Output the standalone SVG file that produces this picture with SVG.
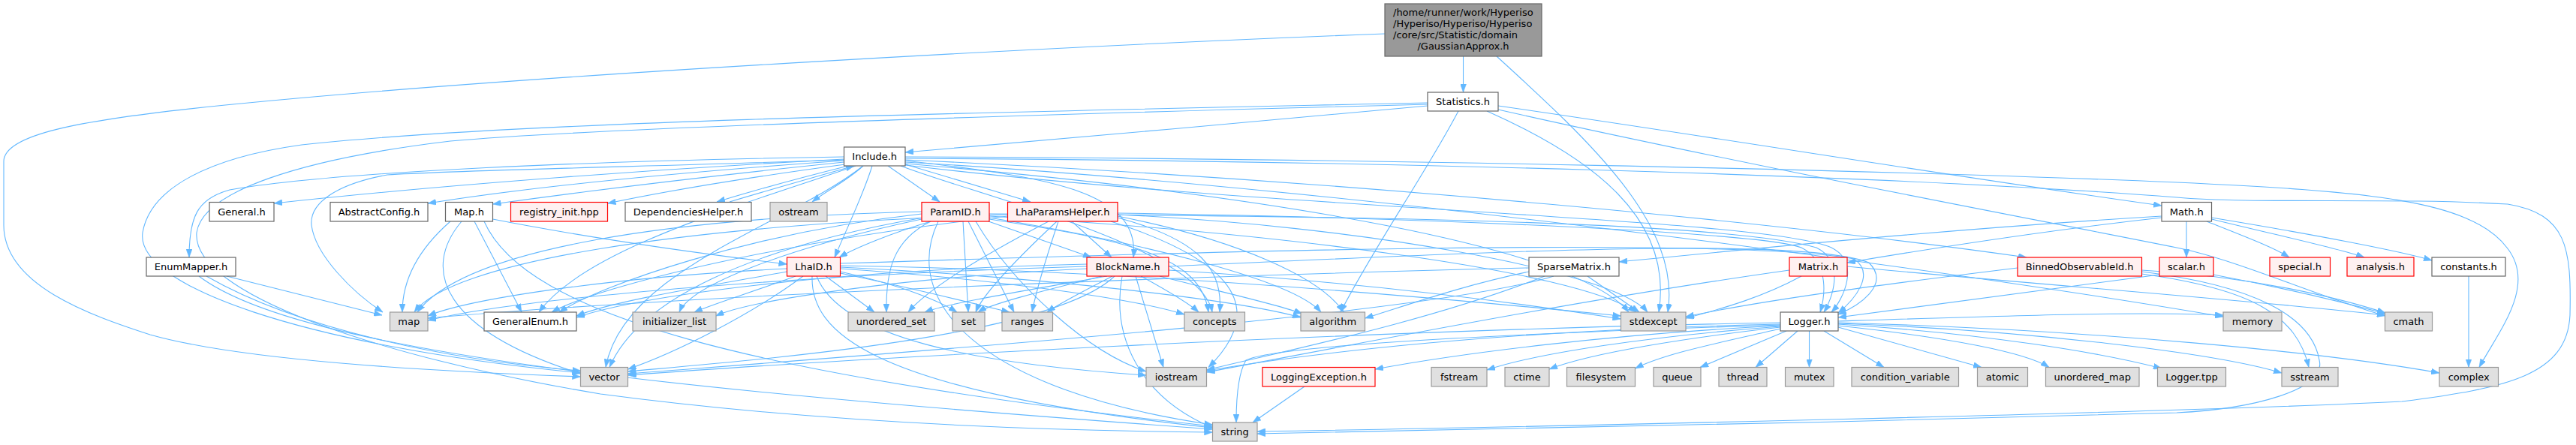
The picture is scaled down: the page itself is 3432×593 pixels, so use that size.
<svg xmlns="http://www.w3.org/2000/svg" width="3432" height="593" viewBox="0 0 3432 593">
<style>
.n rect{stroke-width:1.2}
.w rect{fill:#ffffff;stroke:#666666}
.g rect{fill:#e0e0e0;stroke:#999999}
.r rect{fill:#fff0f0;stroke:#ff0000}
.m rect{fill:#999999;stroke:#666666}
text{font-family:"DejaVu Sans","Liberation Sans",sans-serif;font-size:13px;fill:#000000;text-anchor:middle}
.e{fill:none;stroke:#63b8ff;stroke-width:1.1;marker-end:url(#ah)}
</style>
<defs>
<marker id="ah" markerUnits="userSpaceOnUse" markerWidth="11" markerHeight="8" refX="11" refY="4" orient="auto">
<path d="M0,0 L11,4 L0,8 z" fill="#63b8ff" stroke="#63b8ff" stroke-width="0.5"/>
</marker>
</defs>
<rect x="0" y="0" width="3432" height="593" fill="#ffffff"/>
<g id="edges">
<path class="e" d="M1949.5,75 L1949.5,123"/>
<path class="e" d="M1845,45 C1400,62 700,100 300,140 C100,160 5,180 5,215 L5,300 C5,380 120,420 200,446 C320,480 560,494 773.5,502"/>
<path class="e" d="M1994,75 C2120,190 2240,300 2222,416"/>
<path class="e" d="M1902,141 C1700,160 1400,186 1206,203"/>
<path class="e" d="M1996,141 C2300,185 2600,235 2880,274"/>
<path class="e" d="M1943,148 C1900,230 1830,330 1786,416"/>
<path class="e" d="M1981,148 C2120,210 2230,290 2210,416"/>
<path class="e" d="M1996,146 C2300,215 2700,290 2900,330 C2980,346 3080,392 3178,421"/>
<path class="e" d="M1902,137 C1400,148 700,160 402,193 C280,210 200,250 190,310 C180,380 400,460 773.5,497"/>
<path class="e" d="M1902,139 C1400,152 800,170 600,188 C400,212 270,255 262,310 C255,390 500,475 800,525 C1100,565 1400,574 1615.5,576"/>
<path class="e" d="M1124.5,212 C900,224 600,245 365,271"/>
<path class="e" d="M1124.5,214 C900,230 700,250 570,271"/>
<path class="e" d="M1124.5,216 C950,234 800,252 656.5,272"/>
<path class="e" d="M1126,219 C1000,236 900,252 809.5,271"/>
<path class="e" d="M1130,221 C1070,236 1010,252 955,269"/>
<path class="e" d="M972,269 C1025,253 1085,236 1138,221"/>
<path class="e" d="M1150,221 C1130,240 1100,255 1082,269"/>
<path class="e" d="M1183,221 L1252,269"/>
<path class="e" d="M1206,219 L1373,269"/>
<path class="e" d="M1124.5,209 C800,214 450,228 306,253 C262,265 252,290 252,343"/>
<path class="e" d="M1162,221 C1150,260 1130,300 1112,343"/>
<path class="e" d="M1206,214 C1380,235 1520,250 1510,343"/>
<path class="e" d="M1140,221 C1000,270 780,330 718,416"/>
<path class="e" d="M1124.5,213 C900,221 600,227 516,233 C450,245 412,270 415,300 C420,340 470,390 510,416"/>
<path class="e" d="M1150,221 C1050,300 830,360 807,489.5"/>
<path class="e" d="M1206,209 C1800,211 2500,226 2900,243 C3150,255 3290,265 3340,330 C3380,380 3330,440 3303,489.5"/>
<path class="e" d="M1206,211 C1800,214 2500,232 2900,263 C3002,272 3188,263 3341,272 C3420,285 3426,330 3424,420 C3420,500 3341,517 3200,535 C2900,550 2000,570 1675,575"/>
<path class="e" d="M1206,216 C1800,250 2600,360 2962,422"/>
<path class="e" d="M1200,221 C1300,260 1600,330 1615,416"/>
<path class="e" d="M1206,218 C1700,260 2100,330 2170,416"/>
<path class="e" d="M1206,220 C1700,280 2350,290 2440,330 C2480,350 2455,400 2440,416"/>
<path class="e" d="M1206,213 C1800,240 2400,300 2700,343"/>
<path class="e" d="M2913,295 L2913,343"/>
<path class="e" d="M2940,295 C2990,315 3030,330 3050,343"/>
<path class="e" d="M2946.5,292 C3040,315 3120,332 3150,343"/>
<path class="e" d="M2946.5,290 C3080,312 3200,335 3240,347"/>
<path class="e" d="M2880,290 C2700,310 2550,335 2461,350"/>
<path class="e" d="M2880,288 C2600,305 2350,330 2157,349"/>
<path class="e" d="M2877,366 C2700,390 2550,410 2449,423"/>
<path class="e" d="M2949,366 C3050,385 3130,405 3178,418"/>
<path class="e" d="M3289,368 L3289,489.5"/>
<path class="e" d="M2688,357 C2500,380 2350,400 2246,422"/>
<path class="e" d="M2853.5,362 C3000,380 3080,420 3090,480 C3100,520 3000,545 2900,550 C2500,562 2000,572 1675,578"/>
<path class="e" d="M2853.5,365 C3000,385 3060,420 3076,489.5"/>
<path class="e" d="M2853.5,360 C3000,368 3120,398 3178,417"/>
<path class="e" d="M2400,368 C2350,395 2300,410 2246,424"/>
<path class="e" d="M2384,360 C2100,400 1800,460 1607.5,496"/>
<path class="e" d="M2461,355 C2700,378 3000,400 3178,420"/>
<path class="e" d="M2115,368 L2184,416"/>
<path class="e" d="M2070,368 C1900,420 1200,470 836.5,498"/>
<path class="e" d="M2058,368 C1900,430 1700,470 1607.5,493"/>
<path class="e" d="M2037,357 C1500,370 900,395 570,424"/>
<path class="e" d="M2037,362 C1950,380 1880,405 1818.5,424"/>
<path class="e" d="M1048.5,362 C950,380 820,400 768,421"/>
<path class="e" d="M1060,368 C1000,390 950,405 925,416"/>
<path class="e" d="M1100,368 L1165,416"/>
<path class="e" d="M1070,368 C1000,420 900,470 836.5,492"/>
<path class="e" d="M1082,368 C1080,440 1150,520 1615.5,570"/>
<path class="e" d="M1088,368 C1120,450 1300,485 1527,500"/>
<path class="e" d="M1119.5,362 C1200,380 1250,400 1275,416"/>
<path class="e" d="M1119.5,364 C1220,385 1300,405 1345,416"/>
<path class="e" d="M1119.5,358 C1300,370 1500,395 1578,419"/>
<path class="e" d="M1119.5,356 C1400,370 1650,400 1733,423"/>
<path class="e" d="M1119.5,354 C1500,360 1900,395 2159.5,421"/>
<path class="e" d="M1048.5,358 C800,370 620,400 570,421"/>
<path class="e" d="M1119.5,351 C1600,335 2300,315 2470,345 C2500,365 2470,400 2449,417"/>
<path class="e" d="M1448,352 C1100,360 850,395 768,423"/>
<path class="e" d="M1448,355 C1100,365 700,395 570,427"/>
<path class="e" d="M1475,368 C1350,390 1260,405 1232,416"/>
<path class="e" d="M1468,368 C1380,390 1320,405 1303,416"/>
<path class="e" d="M1482,368 C1440,390 1410,405 1395,416"/>
<path class="e" d="M1520,368 C1560,390 1585,405 1597,416"/>
<path class="e" d="M1545,368 C1630,390 1700,405 1735,418"/>
<path class="e" d="M1557,360 C1800,375 2000,400 2159.5,425"/>
<path class="e" d="M1513,368 L1550,489.5"/>
<path class="e" d="M1495,368 C1480,450 1520,530 1615.5,570"/>
<path class="e" d="M1485,368 C1400,450 1000,480 836.5,495"/>
<path class="e" d="M1448,358 C1200,370 1000,400 953.5,421"/>
<path class="e" d="M1557,355 C2000,335 2400,315 2490,350 C2520,380 2475,408 2449,419"/>
<path class="e" d="M1240,295 C1190,310 1140,330 1118,343"/>
<path class="e" d="M1317,295 L1454,343"/>
<path class="e" d="M1228,285 C1000,310 800,380 745,416"/>
<path class="e" d="M1283,295 L1290,416"/>
<path class="e" d="M1290,295 L1351,416"/>
<path class="e" d="M1240,295 C1190,320 1180,360 1181,416"/>
<path class="e" d="M1318,292 C1500,320 1600,340 1610,416"/>
<path class="e" d="M1318,290 C1500,320 1720,370 1760,416"/>
<path class="e" d="M1318,288 C1700,310 2100,360 2180,416"/>
<path class="e" d="M1318,285 C1800,288 2300,295 2420,330 C2460,350 2440,400 2430,416"/>
<path class="e" d="M1228,282 C900,290 620,330 556,416"/>
<path class="e" d="M1230,290 C1000,330 850,400 812,489.5"/>
<path class="e" d="M1250,295 C1200,400 1300,520 1615.5,566"/>
<path class="e" d="M1228,292 C1050,330 920,380 905,416"/>
<path class="e" d="M1300,295 C1350,380 1450,470 1527,495"/>
<path class="e" d="M1428,295 L1481,343"/>
<path class="e" d="M1397,295 C1330,330 1240,380 1210,416"/>
<path class="e" d="M1408,295 C1360,340 1310,390 1300,416"/>
<path class="e" d="M1410,295 C1395,340 1380,390 1375,416"/>
<path class="e" d="M1489,290 C1600,320 1630,360 1625,416"/>
<path class="e" d="M1489,288 C1650,320 1760,370 1790,416"/>
<path class="e" d="M1489,286 C1800,300 2150,360 2195,416"/>
<path class="e" d="M1489,284 C1900,290 2350,310 2400,330 C2440,350 2430,400 2425,416"/>
<path class="e" d="M1480,295 C1620,340 1700,400 1610,489.5"/>
<path class="e" d="M1342.5,288 C1050,320 800,380 735,416"/>
<path class="e" d="M1342.5,286 C900,300 600,350 552,416"/>
<path class="e" d="M632,295 L695,416"/>
<path class="e" d="M656.5,292 C800,320 950,340 1048.5,352"/>
<path class="e" d="M600,295 C560,330 536,370 536,416"/>
<path class="e" d="M615,295 C560,360 590,440 773.5,498"/>
<path class="e" d="M645,295 C700,420 1000,500 1615.5,568"/>
<path class="e" d="M302,368 L509,420"/>
<path class="e" d="M275,368 C400,440 600,480 773.5,494"/>
<path class="e" d="M265,368 C400,470 900,520 1615.5,572"/>
<path class="e" d="M2410.5,441 L2410.5,489.5"/>
<path class="e" d="M2395,441 L2339,489.5"/>
<path class="e" d="M2430,441 L2510,489.5"/>
<path class="e" d="M2449,436 L2640,489.5"/>
<path class="e" d="M2449,434 C2600,450 2700,470 2730,489.5"/>
<path class="e" d="M2449,432 C2650,445 2800,470 2880,491"/>
<path class="e" d="M2449,431 C2700,440 2950,470 3040,497"/>
<path class="e" d="M2449,430 C2800,440 3100,470 3250,497"/>
<path class="e" d="M2380,441 L2265,489.5"/>
<path class="e" d="M2372,438 C2300,455 2220,470 2178.5,491"/>
<path class="e" d="M2372,436 C2250,450 2120,470 2064,492"/>
<path class="e" d="M2372,435 C2200,448 2050,470 1981,493"/>
<path class="e" d="M2372,434 C2150,445 1950,470 1832,492"/>
<path class="e" d="M2372,432 C2000,440 1750,470 1607.5,494"/>
<path class="e" d="M2372,430 C1800,440 1100,480 836.5,500"/>
<path class="e" d="M2372,433 C2000,445 1700,460 1660,480 C1648,500 1647,540 1647,563"/>
<path class="e" d="M2449,428 C2700,420 2850,415 2962,420"/>
<path class="e" d="M1738,515 L1669,563"/>
</g>
<g id="n_main" class="n m"><rect x="1845" y="5" width="209" height="70"/><text x="1856" y="21" style="text-anchor:start">/home/runner/work/Hyperiso</text><text x="1856" y="36" style="text-anchor:start">/Hyperiso/Hyperiso/Hyperiso</text><text x="1856" y="51" style="text-anchor:start">/core/src/Statistic/domain</text><text x="1949.5" y="66">/GaussianApprox.h</text></g>
<g id="n_statistics" class="n w"><rect x="1902" y="123" width="94" height="25"/><text x="1949" y="140">Statistics.h</text></g>
<g id="n_include" class="n w"><rect x="1124.5" y="196" width="81.5" height="25"/><text x="1165.2" y="213">Include.h</text></g>
<g id="n_general" class="n w"><rect x="279" y="269.5" width="86" height="25.5"/><text x="322" y="287">General.h</text></g>
<g id="n_abstractconfig" class="n w"><rect x="440" y="269.5" width="130" height="25.5"/><text x="505" y="287">AbstractConfig.h</text></g>
<g id="n_maph" class="n w"><rect x="593.5" y="269.5" width="63" height="25.5"/><text x="625" y="287">Map.h</text></g>
<g id="n_registry" class="n r"><rect x="680.5" y="269.5" width="129" height="25.5"/><text x="745" y="287">registry_init.hpp</text></g>
<g id="n_dephelper" class="n w"><rect x="833" y="269.5" width="168" height="25.5"/><text x="917" y="287">DependenciesHelper.h</text></g>
<g id="n_ostream" class="n g"><rect x="1026" y="269.5" width="76" height="25.5"/><text x="1064" y="287">ostream</text></g>
<g id="n_paramid" class="n r"><rect x="1228" y="269.5" width="90" height="25.5"/><text x="1273" y="287">ParamID.h</text></g>
<g id="n_lhaparams" class="n r"><rect x="1342.5" y="269.5" width="146.5" height="25.5"/><text x="1415.7" y="287">LhaParamsHelper.h</text></g>
<g id="n_math" class="n w"><rect x="2880" y="269.5" width="66.5" height="25.5"/><text x="2913.2" y="287">Math.h</text></g>
<g id="n_enummapper" class="n w"><rect x="195" y="343" width="119" height="25"/><text x="254.5" y="360">EnumMapper.h</text></g>
<g id="n_lhaid" class="n r"><rect x="1048.5" y="343" width="71" height="25"/><text x="1084" y="360">LhaID.h</text></g>
<g id="n_blockname" class="n r"><rect x="1448" y="343" width="109" height="25"/><text x="1502.5" y="360">BlockName.h</text></g>
<g id="n_sparse" class="n w"><rect x="2037" y="343" width="120" height="25"/><text x="2097" y="360">SparseMatrix.h</text></g>
<g id="n_matrix" class="n r"><rect x="2384" y="343" width="77" height="25"/><text x="2422.5" y="360">Matrix.h</text></g>
<g id="n_binned" class="n r"><rect x="2688" y="343" width="165.5" height="25"/><text x="2770.7" y="360">BinnedObservableId.h</text></g>
<g id="n_scalar" class="n r"><rect x="2877" y="343" width="72" height="25"/><text x="2913" y="360">scalar.h</text></g>
<g id="n_special" class="n r"><rect x="3024" y="343" width="80.5" height="25"/><text x="3064.2" y="360">special.h</text></g>
<g id="n_analysis" class="n r"><rect x="3127" y="343" width="89" height="25"/><text x="3171.5" y="360">analysis.h</text></g>
<g id="n_constants" class="n w"><rect x="3240" y="343" width="98" height="25"/><text x="3289" y="360">constants.h</text></g>
<g id="n_map" class="n g"><rect x="519.5" y="416" width="50.5" height="25"/><text x="544.7" y="433">map</text></g>
<g id="n_generalenum" class="n w"><rect x="645" y="416" width="123" height="25"/><text x="706.5" y="433">GeneralEnum.h</text></g>
<g id="n_initlist" class="n g"><rect x="843" y="416" width="111" height="25"/><text x="898.5" y="433">initializer_list</text></g>
<g id="n_uset" class="n g"><rect x="1130" y="416" width="115" height="25"/><text x="1187.5" y="433">unordered_set</text></g>
<g id="n_set" class="n g"><rect x="1269" y="416" width="43" height="25"/><text x="1290.5" y="433">set</text></g>
<g id="n_ranges" class="n g"><rect x="1335" y="416" width="67.5" height="25"/><text x="1368.7" y="433">ranges</text></g>
<g id="n_concepts" class="n g"><rect x="1578" y="416" width="80.5" height="25"/><text x="1618.2" y="433">concepts</text></g>
<g id="n_algorithm" class="n g"><rect x="1733" y="416" width="85.5" height="25"/><text x="1775.7" y="433">algorithm</text></g>
<g id="n_stdexcept" class="n g"><rect x="2159.5" y="416" width="86.5" height="25"/><text x="2202.7" y="433">stdexcept</text></g>
<g id="n_logger" class="n w"><rect x="2372" y="416" width="77" height="25"/><text x="2410.5" y="433">Logger.h</text></g>
<g id="n_memory" class="n g"><rect x="2962" y="416" width="78" height="25"/><text x="3001" y="433">memory</text></g>
<g id="n_cmath" class="n g"><rect x="3177.5" y="416" width="63" height="25"/><text x="3209" y="433">cmath</text></g>
<g id="n_vector" class="n g"><rect x="773.5" y="489.5" width="63" height="25.5"/><text x="805" y="507">vector</text></g>
<g id="n_iostream" class="n g"><rect x="1527" y="489.5" width="80.5" height="25.5"/><text x="1567.2" y="507">iostream</text></g>
<g id="n_loggingexc" class="n r"><rect x="1682" y="489.5" width="150" height="25.5"/><text x="1757" y="507">LoggingException.h</text></g>
<g id="n_fstream" class="n g"><rect x="1907" y="489.5" width="74" height="25.5"/><text x="1944" y="507">fstream</text></g>
<g id="n_ctime" class="n g"><rect x="2005" y="489.5" width="59" height="25.5"/><text x="2034.5" y="507">ctime</text></g>
<g id="n_filesystem" class="n g"><rect x="2087.5" y="489.5" width="91" height="25.5"/><text x="2133" y="507">filesystem</text></g>
<g id="n_queue" class="n g"><rect x="2203" y="489.5" width="63" height="25.5"/><text x="2234.5" y="507">queue</text></g>
<g id="n_thread" class="n g"><rect x="2290" y="489.5" width="64" height="25.5"/><text x="2322" y="507">thread</text></g>
<g id="n_mutex" class="n g"><rect x="2378.5" y="489.5" width="64.5" height="25.5"/><text x="2410.7" y="507">mutex</text></g>
<g id="n_condvar" class="n g"><rect x="2467" y="489.5" width="142.5" height="25.5"/><text x="2538.2" y="507">condition_variable</text></g>
<g id="n_atomic" class="n g"><rect x="2634.5" y="489.5" width="67" height="25.5"/><text x="2668" y="507">atomic</text></g>
<g id="n_umap" class="n g"><rect x="2725.5" y="489.5" width="124.5" height="25.5"/><text x="2787.7" y="507">unordered_map</text></g>
<g id="n_loggertpp" class="n g"><rect x="2874.5" y="489.5" width="91" height="25.5"/><text x="2920" y="507">Logger.tpp</text></g>
<g id="n_sstream" class="n g"><rect x="3040" y="489.5" width="75" height="25.5"/><text x="3077.5" y="507">sstream</text></g>
<g id="n_complex" class="n g"><rect x="3250" y="489.5" width="78.5" height="25.5"/><text x="3289.2" y="507">complex</text></g>
<g id="n_string" class="n g"><rect x="1615.5" y="563" width="59.5" height="25"/><text x="1645.2" y="580">string</text></g>
</svg>
